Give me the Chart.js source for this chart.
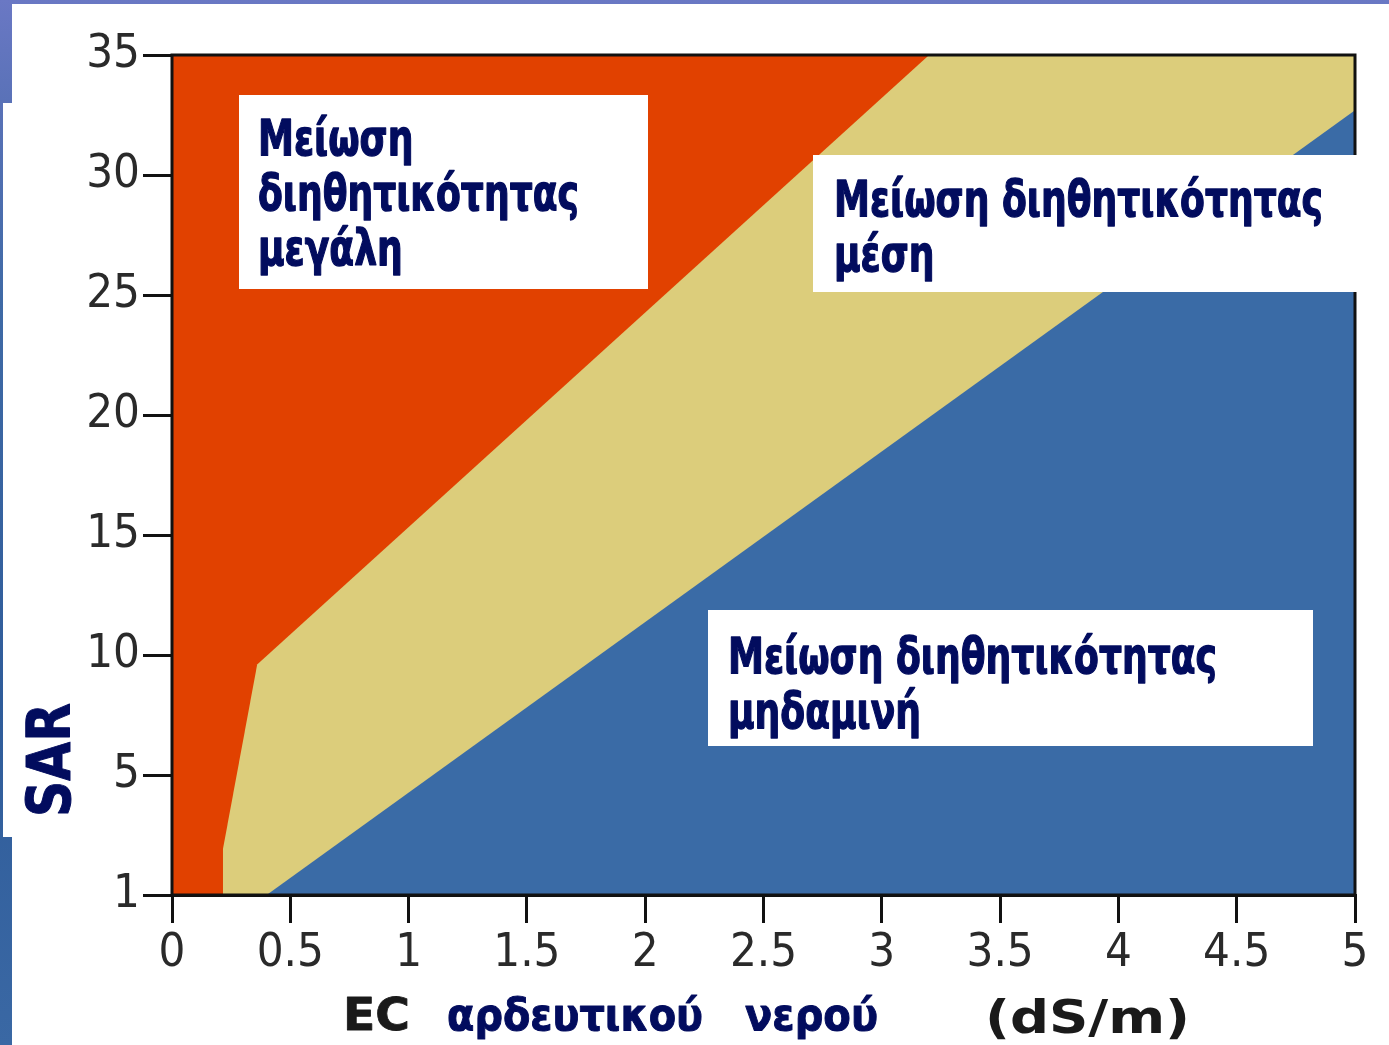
<!doctype html>
<html lang="el">
  <head>
    <meta charset="utf-8">
    <title>SAR - EC</title>
    <script src="https://cdn.jsdelivr.net/npm/chart.js"></script>
    <style>
      html, body {
        margin: 0;
        width: 1389px;
        height: 1045px;
        overflow: hidden;
      }
      body {
        position: relative;
        background: linear-gradient(180deg, #6a78c4 0px, #5a72b8 100px, #3f6aa6 300px, #2f5c9a 700px, #3a68a4 1045px);
      }
      .panel {
        position: absolute;
        background: #fff;
      }
      #chartBox {
        position: absolute;
        left: 0;
        top: 0;
        width: 1389px;
        height: 1045px;
      }
    </style>
  </head>
  <body>
    <div class="panel" style="left:12px; top:4px; right:0; bottom:0;"></div>
    <div class="panel" style="left:3px; top:103px; width:20px; height:734px;"></div>

    <div id="chartBox">
      <canvas id="sarChart" width="1389" height="1045"></canvas>
    </div>

    <script>
      // boundaries (EC in dS/m, SAR)
      const topEC = [0, 5];
      const topSAR = [35, 35];

      const redYellowEC = [0.215, 0.215, 0.36, 3.2, 5];
      const redYellowSAR = [0, 1.9, 9.6, 35, 35];

      const yellowBlueEC = [0.4, 5];
      const yellowBlueSAR = [0, 32.7];

      const xTicks = [0, 0.5, 1, 1.5, 2, 2.5, 3, 3.5, 4, 4.5, 5];
      const yTicks = [0, 5, 10, 15, 20, 25, 30, 35];
      const yTickLabels = ['1', '5', '10', '15', '20', '25', '30', '35'];

      const zoneNames = [
        ['Μείωση', 'διηθητικότητας', 'μεγάλη'],
        ['Μείωση διηθητικότητας', 'μέση'],
        ['Μείωση διηθητικότητας', 'μηδαμινή']
      ];

      const RED = '#e14100';
      const YELLOW = '#dccd7b';
      const BLUE = '#3a6ba6';
      const NAVY = '#020c5e';
      const TICK_FONT = "'DejaVu Sans Condensed', 'DejaVu Sans'";
      const TEXT_FONT = "'DejaVu Sans'";

      function toPoints(xs, ys) {
        return xs.map((x, i) => ({ x: x, y: ys[i] }));
      }

      function textWidth(ctx, text, size) {
        ctx.save();
        ctx.font = 'bold ' + size + 'px ' + TEXT_FONT;
        const w = ctx.measureText(text).width;
        ctx.restore();
        return w;
      }

      // draw text with its own x scale so it matches the stretched original
      function drawFitted(ctx, text, x, y, size, width, color, rotate, heavy) {
        ctx.save();
        ctx.font = 'bold ' + size + 'px ' + TEXT_FONT;
        const w = ctx.measureText(text).width;
        ctx.translate(x, y);
        if (rotate) ctx.rotate(-Math.PI / 2);
        ctx.scale(width / w, 1);
        ctx.fillStyle = color;
        ctx.textAlign = 'left';
        ctx.textBaseline = 'alphabetic';
        ctx.fillText(text, 0, 0);
        if (heavy) {
          ctx.strokeStyle = color;
          ctx.lineWidth = heavy;
          ctx.lineJoin = 'round';
          ctx.strokeText(text, 0, 0);
        }
        ctx.restore();
      }

      const labelPlugin = {
        id: 'labels',
        afterDraw(chart) {
          const ctx = chart.ctx;
          const a = chart.chartArea;

          // frame round the plot
          ctx.save();
          ctx.strokeStyle = '#111';
          ctx.lineWidth = 3;
          ctx.strokeRect(a.left, a.top, a.right - a.left, a.bottom - a.top);
          ctx.restore();

          // white boxes with the zone names
          const boxes = [
            { x: 239, y: 95, w: 409, h: 194, tx: 258, base: [155, 210, 265] },
            { x: 813, y: 155, w: 547, h: 137, tx: 834, base: [216, 271] },
            { x: 708, y: 610, w: 605, h: 136, tx: 728, base: [673, 728] }
          ];
          const size = 50;
          // one squeeze factor for all zone texts, from the long line = 489px
          const sq = 489 / textWidth(ctx, 'Μείωση διηθητικότητας', size);

          boxes.forEach((b, i) => {
            ctx.fillStyle = '#fff';
            ctx.fillRect(b.x, b.y, b.w, b.h);
            zoneNames[i].forEach((line, j) => {
              const w = textWidth(ctx, line, size) * sq;
              drawFitted(ctx, line, b.tx, b.base[j], size, w, NAVY, false, 1.4);
            });
          });

          // axis titles
          drawFitted(ctx, 'SAR', 70, 817, 60, 114, NAVY, true, 1);
          drawFitted(ctx, 'EC', 343, 1030, 44, 67, '#1a1a1a', false, 0.8);
          drawFitted(ctx, 'αρδευτικού', 447, 1030, 44, 256, NAVY, false, 1);
          drawFitted(ctx, 'νερού', 745, 1030, 44, 133, NAVY, false, 1);
          drawFitted(ctx, '(dS/m)', 985, 1033, 46, 205, '#1a1a1a', false, 0);
        }
      };

      const ctx = document.getElementById('sarChart').getContext('2d');
      const chart = new Chart(ctx, {
        type: 'scatter',
        data: {
          datasets: [
            {
              label: 'μηδαμινή',
              data: toPoints(yellowBlueEC, yellowBlueSAR),
              showLine: true,
              fill: 'start',
              backgroundColor: BLUE,
              borderWidth: 0,
              pointRadius: 0,
              order: 1
            },
            {
              label: 'μέση',
              data: toPoints(redYellowEC, redYellowSAR),
              showLine: true,
              fill: 'start',
              backgroundColor: YELLOW,
              borderWidth: 0,
              pointRadius: 0,
              order: 2
            },
            {
              label: 'μεγάλη',
              data: toPoints(topEC, topSAR),
              showLine: true,
              fill: 'start',
              backgroundColor: RED,
              borderWidth: 0,
              pointRadius: 0,
              order: 3
            }
          ]
        },
        options: {
          responsive: false,
          animation: false,
          layout: {
            padding: { left: 0, top: 55, right: 34, bottom: 0 }
          },
          plugins: {
            legend: { display: false },
            tooltip: { enabled: false }
          },
          scales: {
            x: {
              type: 'linear',
              min: 0,
              max: 5,
              afterFit: s => { s.height = 150; },
              afterBuildTicks: s => { s.ticks = xTicks.map(v => ({ value: v })); },
              grid: {
                drawOnChartArea: false,
                drawTicks: true,
                tickLength: 28,
                color: '#111',
                lineWidth: 3
              },
              border: { display: true, color: '#111', width: 3 },
              ticks: {
                padding: 3,
                color: '#2a2a2a',
                font: { family: TICK_FONT, size: 47 },
                maxRotation: 0,
                callback: v => String(v)
              }
            },
            y: {
              type: 'linear',
              min: 0,
              max: 35,
              afterFit: s => { s.width = 172; },
              afterBuildTicks: s => { s.ticks = yTicks.map(v => ({ value: v })); },
              grid: {
                drawOnChartArea: false,
                drawTicks: true,
                tickLength: 29,
                color: '#111',
                lineWidth: 3
              },
              border: { display: true, color: '#111', width: 3 },
              ticks: {
                padding: 3,
                color: '#2a2a2a',
                font: { family: TICK_FONT, size: 47 },
                callback: (v, i) => yTickLabels[i]
              }
            }
          }
        },
        plugins: [labelPlugin]
      });
    </script>
  </body>
</html>
